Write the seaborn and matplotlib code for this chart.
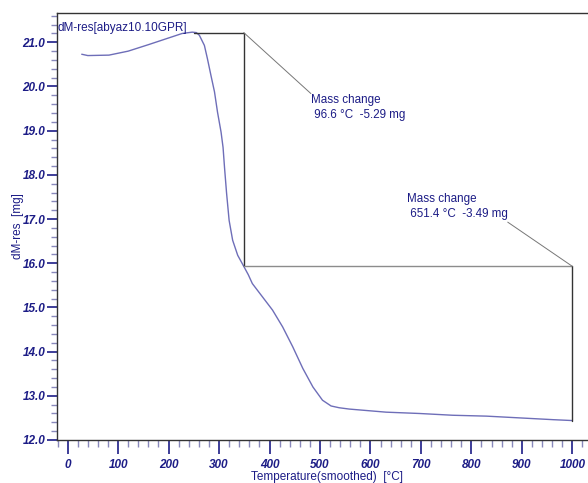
import matplotlib
matplotlib.use("Agg")
import matplotlib.pyplot as plt
import seaborn as sns
import pandas as pd
from matplotlib.ticker import MultipleLocator, FormatStrFormatter

# ---- data ----
temp = [28, 40, 82, 120, 161, 190, 227, 247, 255, 261, 271, 277, 284, 291, 297, 304, 308,
        311, 315, 320, 327, 337, 349, 358, 366, 376, 386, 406, 426, 446, 466, 486, 505, 522,
        538, 558, 631, 697, 763, 830, 896, 962, 1000]
mass = [20.73, 20.70, 20.71, 20.80, 20.95, 21.06, 21.20, 21.23, 21.22, 21.16, 20.93, 20.63,
        20.25, 19.88, 19.42, 18.97, 18.62, 18.15, 17.58, 16.97, 16.52, 16.18, 15.93, 15.74,
        15.54, 15.39, 15.24, 14.94, 14.56, 14.11, 13.62, 13.20, 12.90, 12.77, 12.73, 12.70,
        12.63, 12.60, 12.56, 12.54, 12.50, 12.46, 12.44]

step1_t = [251, 349]          # plateau start, step end
step1_m = [21.22, 15.93]
step2_t = [349, 1000]
step2_m = [15.93, 12.44]
label1 = ["Mass change", " 96.6 °C  -5.29 mg"]
label2 = ["Mass change", " 651.4 °C  -3.49 mg"]
label1_pos = (482, 19.84)
label2_pos = (673, 17.58)
label2_end = (872, 16.93)

title = "dM-res[abyaz10.10GPR]"
xlabel = "Temperature(smoothed)  [°C]"
ylabel = "dM-res  [mg]"

sns.set_style("white")
plt.rcParams['font.family'] = ['Liberation Sans', 'DejaVu Sans']

navy = "#1c1c86"
curve_col = "#6e6eb8"

fig = plt.figure(figsize=(5.88, 4.83), dpi=100)
ax = fig.add_axes([57/588, 1-440/483, 1-57/588, (440-12.7)/483])

df = pd.DataFrame({"T": temp, "M": mass})
sns.lineplot(data=df, x="T", y="M", ax=ax, color=curve_col, linewidth=1.0, sort=False)

# annotation step lines
ax.plot([step1_t[0], step1_t[1]], [step1_m[0], step1_m[0]], color="#333333", lw=1.0)
ax.plot([step1_t[1], step1_t[1]], [step1_m[0], step1_m[1]], color="#333333", lw=1.0)
ax.plot([step2_t[0], step2_t[1]], [step2_m[0], step2_m[0]], color="#8c8c8c", lw=1.0)
ax.plot([step2_t[1], step2_t[1]], [step2_m[0], step2_m[1]], color="#333333", lw=1.0)
ax.plot([step1_t[1], label1_pos[0]], [step1_m[0], label1_pos[1]], color="#777777", lw=0.7)
ax.plot([label2_end[0], step2_t[1]], [label2_end[1], step2_m[0]], color="#777777", lw=0.7)

ax.text(label1_pos[0], label1_pos[1] - 0.02, label1[0] + "\n" + label1[1], color=navy,
        fontsize=8.4, va="top", ha="left", linespacing=1.3)
ax.text(label2_pos[0], label2_pos[1], label2[0] + "\n" + label2[1], color=navy,
        fontsize=8.4, va="top", ha="left", linespacing=1.3)

ax.text(0.0, 0.978, title, transform=ax.transAxes, color=navy, fontsize=8.5,
        va="top", ha="left")

ax.set_xlim(-21, 1031)
ax.set_ylim(12.0, 21.67)
ax.xaxis.set_major_locator(MultipleLocator(100))
ax.xaxis.set_minor_locator(MultipleLocator(20))
ax.yaxis.set_major_locator(MultipleLocator(1.0))
ax.yaxis.set_minor_locator(MultipleLocator(0.2))
ax.yaxis.set_major_formatter(FormatStrFormatter("%.1f"))

for lab in ax.get_xticklabels() + ax.get_yticklabels():
    lab.set_fontweight("bold")
    lab.set_fontstyle("italic")
    lab.set_color(navy)
    lab.set_fontsize(8.5)

ax.tick_params(axis="x", which="major", direction="out", length=10, width=1.2,
               color=navy, pad=3.5, bottom=True)
ax.tick_params(axis="x", which="minor", direction="out", length=5, width=1.0,
               color="#8888bb", bottom=True)
ax.tick_params(axis="y", which="major", direction="out", length=7, width=1.2,
               color=navy, pad=1.5, left=True)
ax.tick_params(axis="y", which="minor", direction="out", length=4, width=1.0,
               color="#8888bb", left=True)

ax.set_xlabel(xlabel, color=navy, fontsize=8.5, labelpad=0)
ax.xaxis.label.set_x(0.508)
ax.set_ylabel(ylabel, color=navy, fontsize=8.5, labelpad=-1)

for s in ["left", "top", "bottom"]:
    ax.spines[s].set_color("#333333")
    ax.spines[s].set_linewidth(1.0)
ax.spines["right"].set_visible(False)

fig.savefig("out.png", dpi=100)
